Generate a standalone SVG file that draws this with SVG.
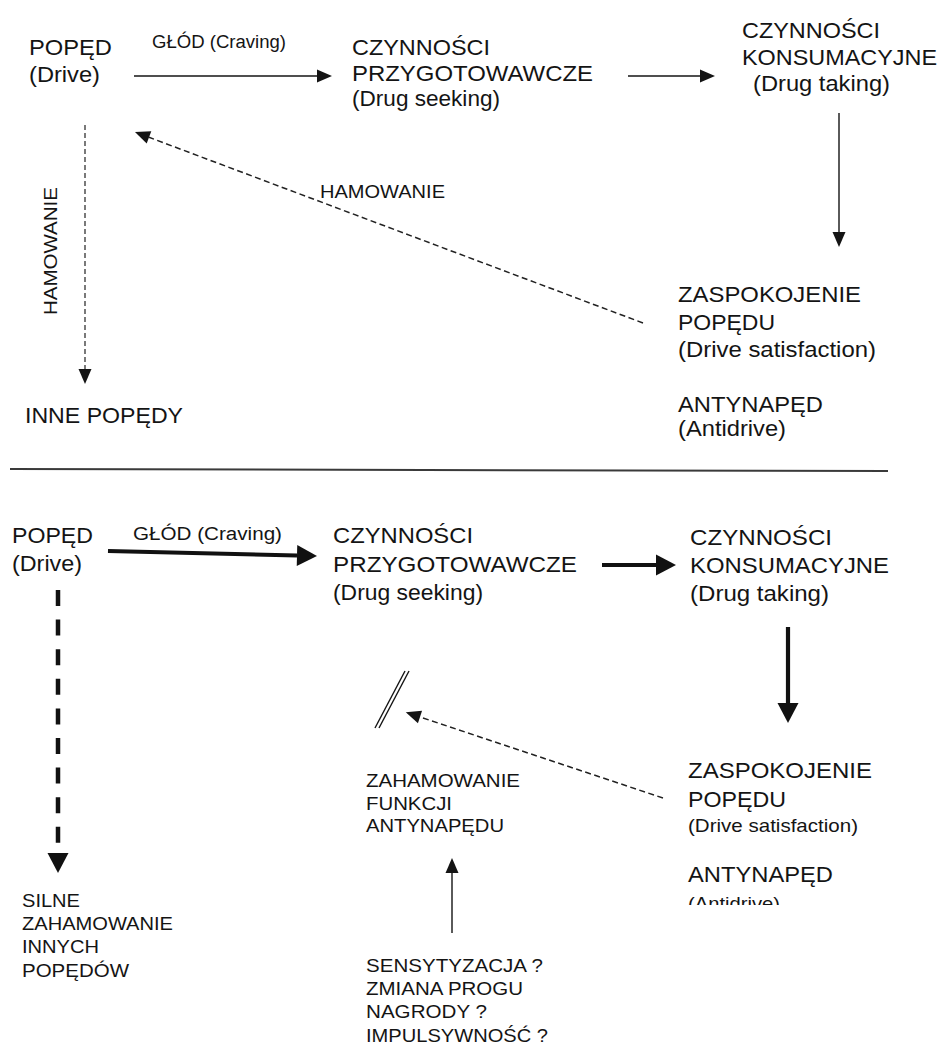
<svg xmlns="http://www.w3.org/2000/svg" width="944" height="1057" viewBox="0 0 944 1057">
<style>
text{font-family:"Liberation Sans",Arial,sans-serif;fill:#141414}
.L{font-size:22px}
.M{font-size:19px}
.S{font-size:18px}
.thin{stroke:#141414;stroke-width:1.4;fill:none}
.thick{stroke:#111;stroke-width:4.2;fill:none}
.dash1{stroke:#333;stroke-width:1.3;fill:none;stroke-dasharray:5 3}
.dash2{stroke:#222;stroke-width:1.5;fill:none;stroke-dasharray:6 3.5}
.dashT{stroke:#111;stroke-width:4.5;fill:none;stroke-dasharray:16 13.6}
</style>
<defs>
<marker id="hs" markerUnits="userSpaceOnUse" markerWidth="16" markerHeight="13" refX="0" refY="6.5" orient="auto" overflow="visible"><path d="M0,0 L15,6.5 L0,13 z" fill="#141414"/></marker>
<marker id="hb" markerUnits="userSpaceOnUse" markerWidth="21" markerHeight="22" refX="0" refY="10.5" orient="auto" overflow="visible"><path d="M0,0 L20,10.5 L0,21 z" fill="#111"/></marker>
<clipPath id="cut"><rect x="600" y="880" width="300" height="25"/></clipPath>
</defs>
<rect width="944" height="1057" fill="#ffffff"/>

<g id="connectors">
<line class="thin" x1="134" y1="76" x2="317" y2="76" marker-end="url(#hs)"/>
<line class="thin" x1="628" y1="76" x2="700" y2="76" marker-end="url(#hs)"/>
<line class="thin" x1="839" y1="113" x2="839" y2="232" marker-end="url(#hs)"/>
<line class="dash2" x1="643" y1="323" x2="149" y2="137.3" marker-end="url(#hs)"/>
<line class="dash1" x1="85" y1="125" x2="85" y2="369" marker-end="url(#hs)"/>
<line x1="10" y1="469" x2="888" y2="471" stroke="#3a3a3a" stroke-width="2"/>
<line class="thick" x1="108" y1="551" x2="297" y2="555.5" marker-end="url(#hb)"/>
<line class="thick" x1="602" y1="565" x2="656" y2="565" marker-end="url(#hb)"/>
<line class="thick" x1="788" y1="627" x2="788" y2="703" marker-end="url(#hb)"/>
<line class="dashT" x1="58" y1="590" x2="58" y2="853" marker-end="url(#hb)"/>
<line class="dash2" x1="663" y1="798" x2="420" y2="717" marker-end="url(#hs)"/>
<line class="thin" x1="452" y1="933" x2="452" y2="873" marker-end="url(#hs)"/>
<line class="thin" x1="375" y1="728" x2="405" y2="671"/>
<line class="thin" x1="379" y1="728" x2="409" y2="671"/>
</g>

<g id="label-glod-top"><text class="S" x="152" y="48" textLength="134" lengthAdjust="spacingAndGlyphs">GŁÓD (Craving)</text></g>
<g id="label-hamowanie-top"><text class="S" x="320" y="198" textLength="125" lengthAdjust="spacingAndGlyphs">HAMOWANIE</text></g>
<g id="label-hamowanie-vert"><text class="S" transform="translate(57,315) rotate(-90)" x="0" y="0" textLength="128" lengthAdjust="spacingAndGlyphs">HAMOWANIE</text></g>

<g id="node-poped-top">
<text class="L" x="29" y="55" textLength="83" lengthAdjust="spacingAndGlyphs">POPĘD</text>
<text class="L" x="29" y="82" textLength="71" lengthAdjust="spacingAndGlyphs">(Drive)</text>
</g>
<g id="node-przygot-top">
<text class="L" x="352" y="55" textLength="138" lengthAdjust="spacingAndGlyphs">CZYNNOŚCI</text>
<text class="L" x="352" y="81" textLength="241" lengthAdjust="spacingAndGlyphs">PRZYGOTOWAWCZE</text>
<text class="L" x="352" y="106" textLength="148" lengthAdjust="spacingAndGlyphs">(Drug seeking)</text>
</g>
<g id="node-konsum-top">
<text class="L" x="742" y="38" textLength="138" lengthAdjust="spacingAndGlyphs">CZYNNOŚCI</text>
<text class="L" x="742" y="65" textLength="195" lengthAdjust="spacingAndGlyphs">KONSUMACYJNE</text>
<text class="L" x="753" y="91" textLength="137" lengthAdjust="spacingAndGlyphs">(Drug taking)</text>
</g>
<g id="node-inne-top">
<text class="L" x="25" y="423" textLength="158" lengthAdjust="spacingAndGlyphs">INNE POPĘDY</text>
</g>
<g id="node-zaspok-top">
<text class="L" x="678" y="302" textLength="183" lengthAdjust="spacingAndGlyphs">ZASPOKOJENIE</text>
<text class="L" x="678" y="330" textLength="97" lengthAdjust="spacingAndGlyphs">POPĘDU</text>
<text class="L" x="678" y="357" textLength="198" lengthAdjust="spacingAndGlyphs">(Drive satisfaction)</text>
<text class="L" x="678" y="412" textLength="145" lengthAdjust="spacingAndGlyphs">ANTYNAPĘD</text>
<text class="L" x="678" y="436" textLength="108" lengthAdjust="spacingAndGlyphs">(Antidrive)</text>
</g>

<g id="label-glod-bottom"><text class="S" x="133" y="540" textLength="149" lengthAdjust="spacingAndGlyphs">GŁÓD (Craving)</text></g>

<g id="node-poped-bottom">
<text class="L" x="12" y="543" textLength="81" lengthAdjust="spacingAndGlyphs">POPĘD</text>
<text class="L" x="12" y="571" textLength="70" lengthAdjust="spacingAndGlyphs">(Drive)</text>
</g>
<g id="node-przygot-bottom">
<text class="L" x="333" y="543" textLength="140" lengthAdjust="spacingAndGlyphs">CZYNNOŚCI</text>
<text class="L" x="333" y="572" textLength="244" lengthAdjust="spacingAndGlyphs">PRZYGOTOWAWCZE</text>
<text class="L" x="333" y="600" textLength="150" lengthAdjust="spacingAndGlyphs">(Drug seeking)</text>
</g>
<g id="node-konsum-bottom">
<text class="L" x="690" y="545" textLength="142" lengthAdjust="spacingAndGlyphs">CZYNNOŚCI</text>
<text class="L" x="690" y="573" textLength="199" lengthAdjust="spacingAndGlyphs">KONSUMACYJNE</text>
<text class="L" x="690" y="601" textLength="139" lengthAdjust="spacingAndGlyphs">(Drug taking)</text>
</g>
<g id="node-zaspok-bottom">
<text class="L" x="688" y="778" textLength="184" lengthAdjust="spacingAndGlyphs">ZASPOKOJENIE</text>
<text class="L" x="688" y="807" textLength="98" lengthAdjust="spacingAndGlyphs">POPĘDU</text>
<text class="M" x="688" y="832" textLength="170" lengthAdjust="spacingAndGlyphs">(Drive satisfaction)</text>
<text class="L" x="688" y="882" textLength="145" lengthAdjust="spacingAndGlyphs">ANTYNAPĘD</text>
<text class="M" x="688" y="910" textLength="92" lengthAdjust="spacingAndGlyphs" clip-path="url(#cut)">(Antidrive)</text>
</g>
<g id="node-zahamowanie-funkcji">
<text class="M" x="366" y="787" textLength="154" lengthAdjust="spacingAndGlyphs">ZAHAMOWANIE</text>
<text class="M" x="366" y="810" textLength="86" lengthAdjust="spacingAndGlyphs">FUNKCJI</text>
<text class="M" x="366" y="832" textLength="138" lengthAdjust="spacingAndGlyphs">ANTYNAPĘDU</text>
</g>
<g id="node-sensytyzacja">
<text class="M" x="366" y="972" textLength="177" lengthAdjust="spacingAndGlyphs">SENSYTYZACJA ?</text>
<text class="M" x="366" y="995" textLength="157" lengthAdjust="spacingAndGlyphs">ZMIANA PROGU</text>
<text class="M" x="366" y="1018" textLength="121" lengthAdjust="spacingAndGlyphs">NAGRODY ?</text>
<text class="M" x="366" y="1042" textLength="182" lengthAdjust="spacingAndGlyphs">IMPULSYWNOŚĆ ?</text>
</g>
<g id="node-silne">
<text class="M" x="22" y="907" textLength="58" lengthAdjust="spacingAndGlyphs">SILNE</text>
<text class="M" x="22" y="930" textLength="151" lengthAdjust="spacingAndGlyphs">ZAHAMOWANIE</text>
<text class="M" x="22" y="953" textLength="77" lengthAdjust="spacingAndGlyphs">INNYCH</text>
<text class="M" x="22" y="977" textLength="107" lengthAdjust="spacingAndGlyphs">POPĘDÓW</text>
</g>
</svg>
